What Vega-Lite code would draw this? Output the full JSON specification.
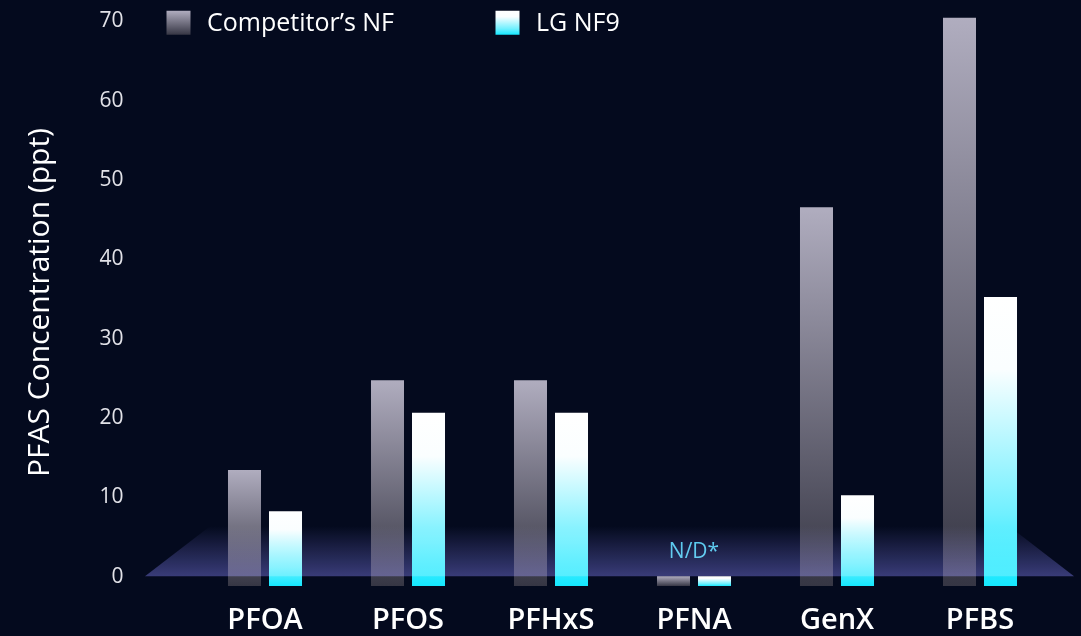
{
  "$schema": "https://vega.github.io/schema/vega-lite/v6.json",
  "width": 941,
  "height": 595,
  "autosize": "none",
  "padding": {"left": 140, "top": 5, "right": 0, "bottom": 36},
  "background": "#040a1e",
  "config": {"view": {"stroke": null}, "font": "Open Sans"},
  "datasets": {
    "pfas": [
      {"compound": "PFOA", "series": "Competitor’s NF", "value": 13.4},
      {"compound": "PFOA", "series": "LG NF9", "value": 8.2},
      {"compound": "PFOS", "series": "Competitor’s NF", "value": 24.7},
      {"compound": "PFOS", "series": "LG NF9", "value": 20.6},
      {"compound": "PFHxS", "series": "Competitor’s NF", "value": 24.7},
      {"compound": "PFHxS", "series": "LG NF9", "value": 20.6},
      {"compound": "PFNA", "series": "Competitor’s NF", "value": 0},
      {"compound": "PFNA", "series": "LG NF9", "value": 0},
      {"compound": "GenX", "series": "Competitor’s NF", "value": 46.5},
      {"compound": "GenX", "series": "LG NF9", "value": 10.2},
      {"compound": "PFBS", "series": "Competitor’s NF", "value": 70.4},
      {"compound": "PFBS", "series": "LG NF9", "value": 35.2}
    ],
    "notes": [{"compound": "PFNA", "note": "N/D*"}],
    "floor": [
      {"fx": 0.0053, "fy": 0},
      {"fx": 0.0744, "fy": 6.3},
      {"fx": 0.9235, "fy": 6.3},
      {"fx": 0.9926, "fy": 0}
    ]
  },
  "layer": [
    {
      "layer": [
        {
          "data": {"name": "pfas"},
          "mark": {"type": "bar", "strokeWidth": 0},
          "encoding": {
            "x": {
              "field": "compound",
              "type": "nominal",
              "sort": ["PFOA", "PFOS", "PFHxS", "PFNA", "GenX", "PFBS"],
              "scale": {"domain": ["PFOA", "PFOS", "PFHxS", "PFNA", "GenX", "PFBS"], "paddingInner": 0, "paddingOuter": 0.2902, "align": 0.6446},
              "axis": {
                "title": null,
                "domain": false,
                "ticks": false,
                "tickSize": 0,
                "labelFontSize": 29,
                "labelFontWeight": 600,
                "labelColor": "#ffffff",
                "labelPadding": 28,
                "labelBaseline": "alphabetic",
                "labelAngle": 0,
                "encode": {
                  "labels": {
                    "update": {
                      "dx": {"signal": "[7, 4, 1, -3, -6, -9][indexof(['PFOA', 'PFOS', 'PFHxS', 'PFNA', 'GenX', 'PFBS'], datum.value)]"}
                    }
                  }
                }
              }
            },
            "xOffset": {
              "field": "series",
              "type": "nominal",
              "scale": {"domain": ["Competitor’s NF", "LG NF9"], "paddingInner": 0.1951, "paddingOuter": 0.841}
            },
            "y": {
              "field": "value",
              "type": "quantitative",
              "scale": {"domain": [-3, 72], "nice": false, "zero": false},
              "axis": {
                "title": "PFAS Concentration (ppt)",
                "values": [0, 10, 20, 30, 40, 50, 60, 70],
                "grid": false,
                "domain": false,
                "ticks": false,
                "tickSize": 0,
                "labelPadding": 17,
                "labelFontSize": 21,
                "labelColor": "#e2e2e8",
                "titleFontSize": 30,
                "titleFontWeight": "normal",
                "titleColor": "#ffffff",
                "titleX": -92,
                "titleY": 297,
                "titleAngle": -90,
                "titleBaseline": "alphabetic",
                "titleAlign": "center"
              }
            },
            "y2": {"datum": -1.25},
            "fill": {
              "field": "series",
              "type": "nominal",
              "scale": {
                "domain": ["Competitor’s NF", "LG NF9"],
                "range": [
                  {"expr": "{gradient: 'linear', x1: 0, y1: 0, x2: 0, y2: 1, stops: [{offset: 0, color: '#b0adbf'}, {offset: 1, color: '#363644'}]}"},
                  {"expr": "{gradient: 'linear', x1: 0, y1: 0, x2: 0, y2: 1, stops: [{offset: 0, color: '#ffffff'}, {offset: 0.25, color: '#fafeff'}, {offset: 0.75, color: '#70f0ff'}, {offset: 1, color: '#14e8ff'}]}"}
                ]
              },
              "legend": {
                "orient": "none",
                "legendX": 26,
                "legendY": 5,
                "direction": "horizontal",
                "title": null,
                "symbolType": "square",
                "symbolSize": 576,
                "symbolStrokeWidth": 0,
                "symbolOpacity": 1,
                "labelFontSize": 25,
                "labelLimit": 400,
                "labelColor": "#ffffff",
                "labelOffset": 16,
                "columnPadding": 100
              }
            }
          }
        },
        {
          "data": {"name": "notes"},
          "mark": {"type": "text", "fontSize": 21, "color": "#4fc6ec", "baseline": "alphabetic", "align": "center"},
          "encoding": {
            "x": {"field": "compound", "type": "nominal", "sort": ["PFOA", "PFOS", "PFHxS", "PFNA", "GenX", "PFBS"]},
            "y": {"datum": 2.3},
            "text": {"field": "note"}
          }
        }
      ]
    },
    {
      "data": {"name": "floor"},
      "mark": {
        "type": "area",
        "blend": "screen",
        "color": {"gradient": "linear", "x1": 0, "y1": 1, "x2": 0, "y2": 0, "stops": [{"offset": 0, "color": "#363466"}, {"offset": 1, "color": "#000000"}]}
      },
      "encoding": {
        "x": {"field": "fx", "type": "quantitative", "scale": {"domain": [0, 1], "nice": false, "zero": false}, "axis": null},
        "y": {"field": "fy", "type": "quantitative", "scale": {"domain": [-3, 72], "nice": false, "zero": false}},
        "y2": {"datum": 0}
      }
    }
  ],
  "resolve": {"scale": {"x": "independent"}}
}
